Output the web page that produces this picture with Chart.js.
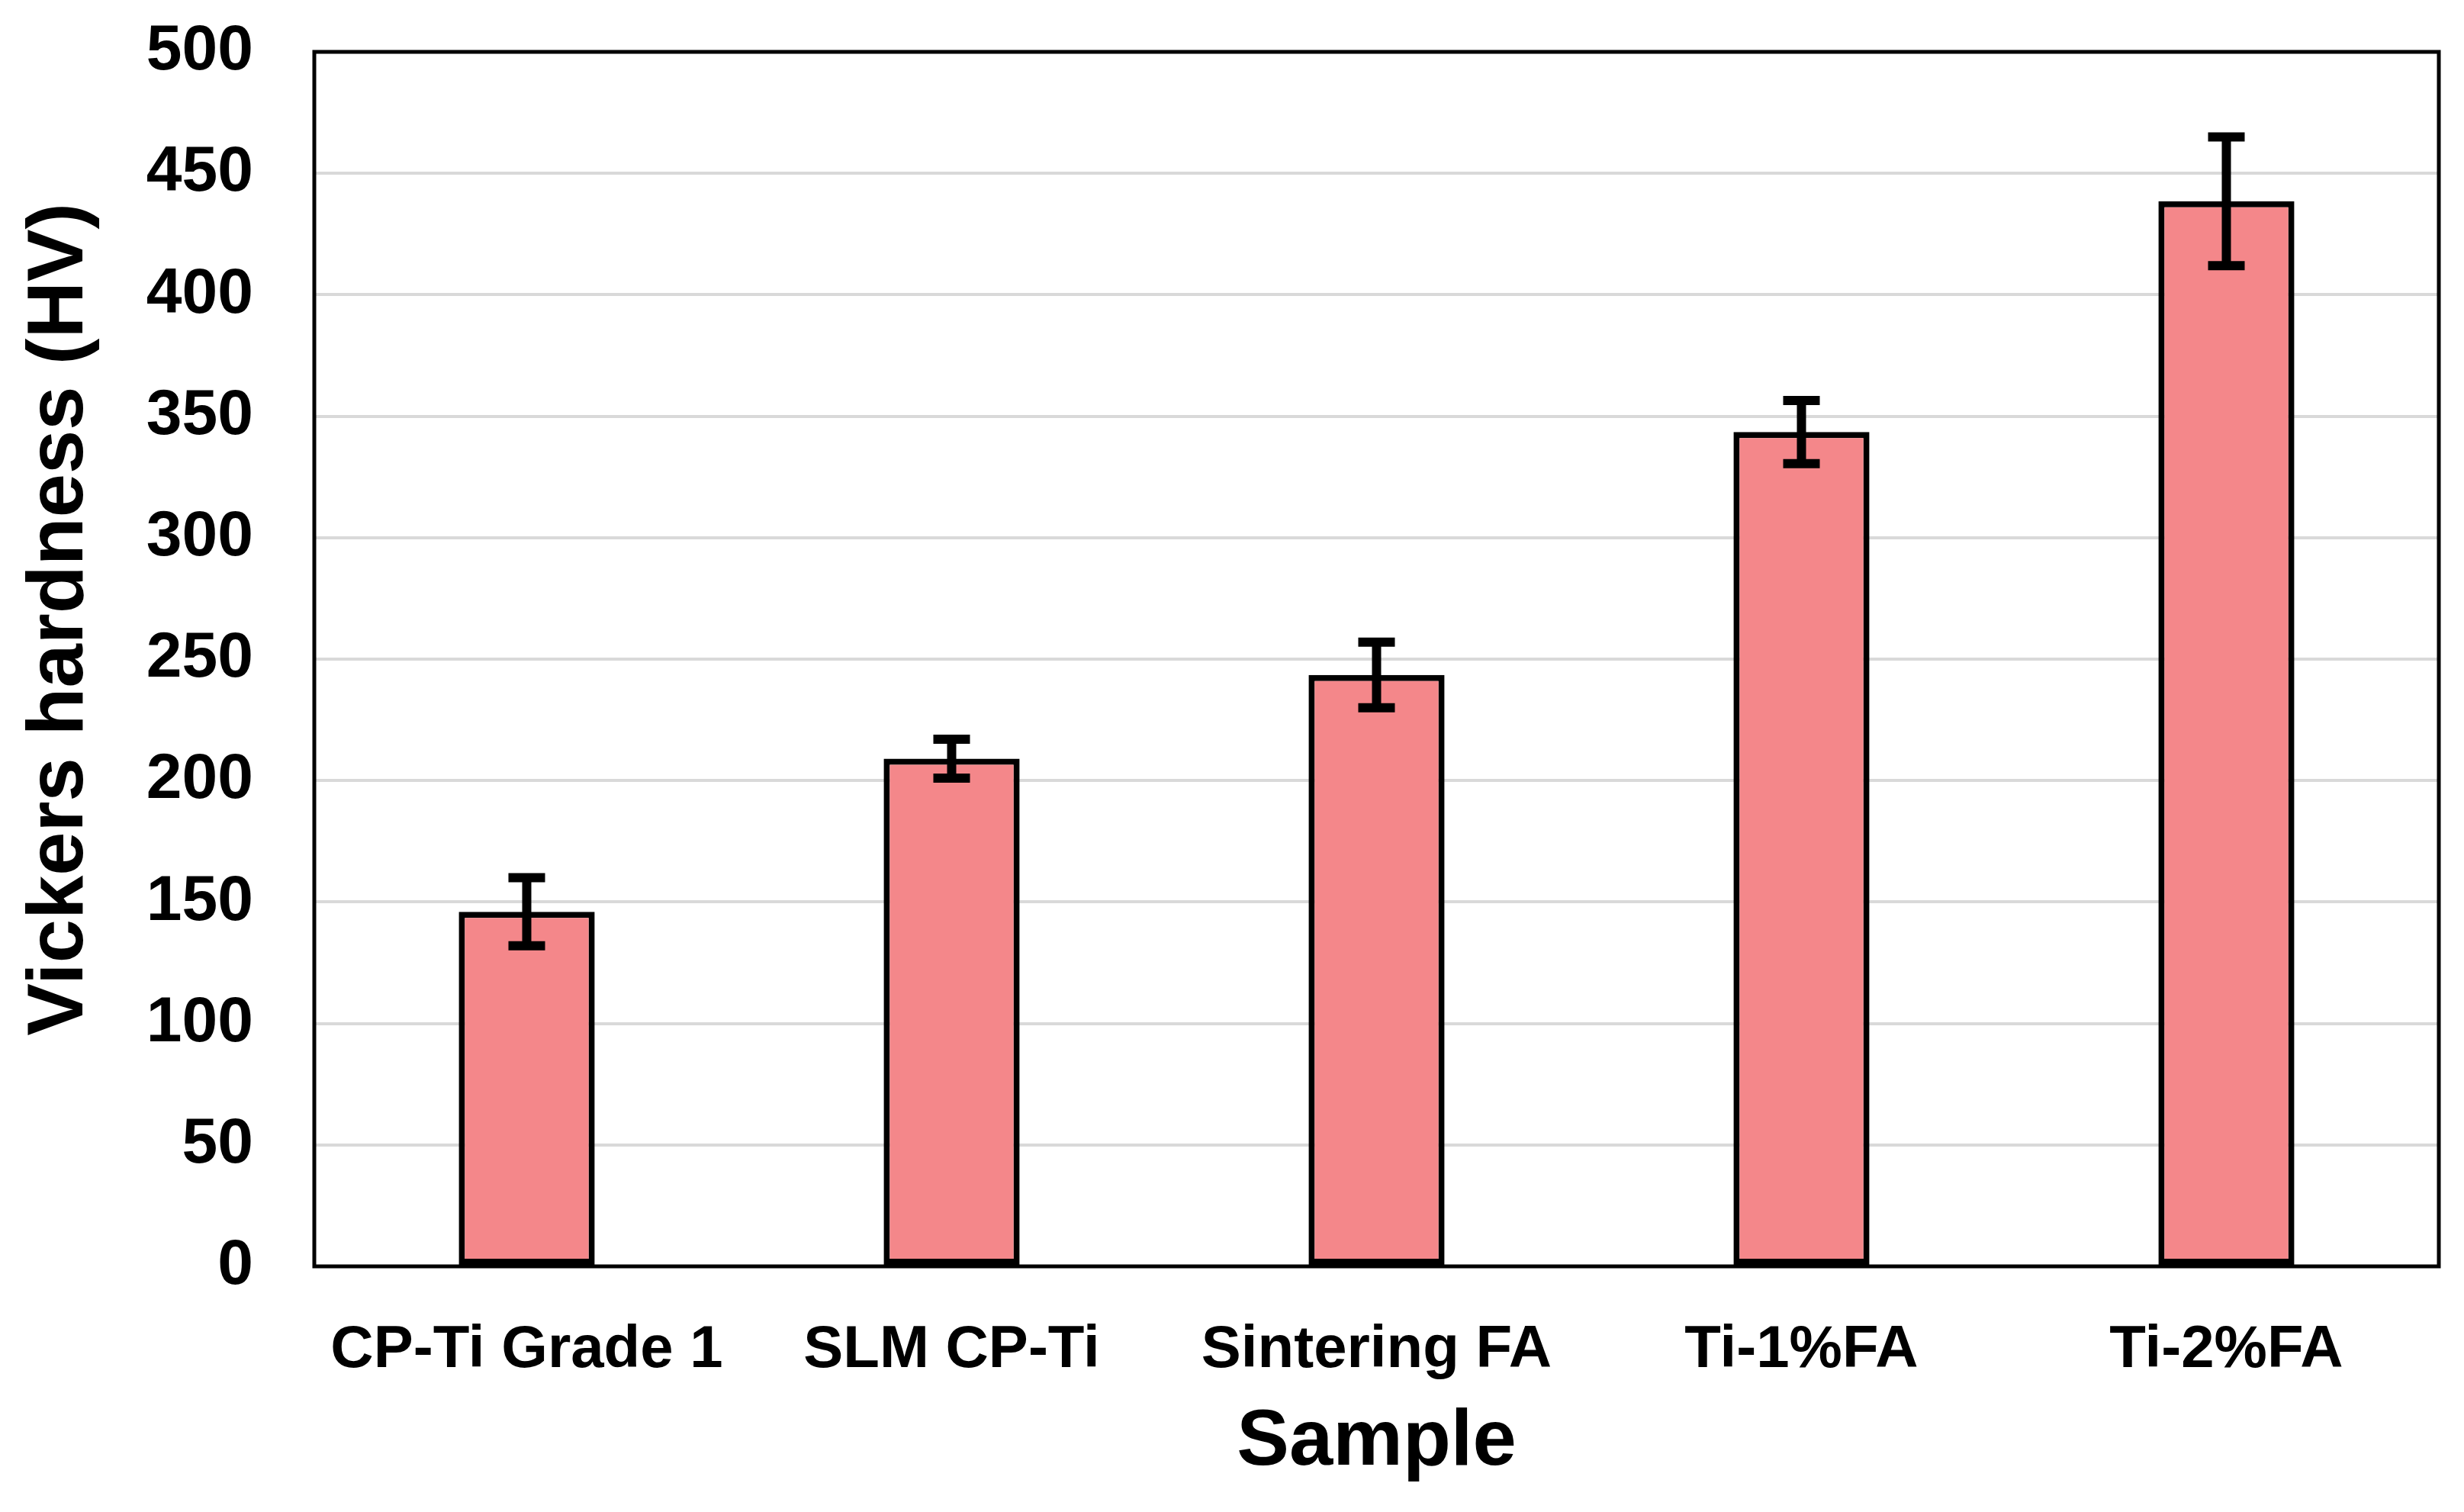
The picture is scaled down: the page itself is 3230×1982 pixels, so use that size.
<!DOCTYPE html>
<html>
<head>
<meta charset="utf-8">
<script src="https://cdn.jsdelivr.net/npm/chart.js@4.4.1/dist/chart.umd.min.js"></script>
<style>
html,body{margin:0;padding:0;background:#fff;}
#wrap{width:3230px;height:1982px;position:relative;}
</style>
</head>
<body>
<div id="wrap"><canvas id="c" width="3230" height="1982"></canvas></div>
<script>
const categories = ["CP-Ti Grade 1", "SLM CP-Ti", "Sintering FA", "Ti-1%FA", "Ti-2%FA"];
const hardness = [146, 209, 243.5, 343.5, 438.5];
const errors = [14, 8, 13.5, 13, 26.5];
const yTicks = [0, 50, 100, 150, 200, 250, 300, 350, 400, 450, 500];
const yTitle = "Vickers hardness (HV)";

const FONT = "'Liberation Sans', Arial, sans-serif";

const frame = {
  id: 'frame',
  beforeDatasetsDraw(chart) {
    const {ctx, chartArea: a} = chart;
    ctx.save();
    ctx.strokeStyle = '#000';
    ctx.lineWidth = 5;
    ctx.strokeRect(a.left, a.top, a.right - a.left, a.bottom - a.top);
    ctx.restore();
  }
};

const yTitlePlugin = {
  id: 'yTitle',
  afterDraw(chart) {
    const {ctx, chartArea: a} = chart;
    ctx.save();
    ctx.fillStyle = '#000';
    ctx.font = "bold 103px " + FONT;
    ctx.textAlign = 'center';
    ctx.textBaseline = 'middle';
    ctx.translate(80, (a.top + a.bottom) / 2 - 52);
    ctx.rotate(-Math.PI / 2);
    ctx.fillText(yTitle, 0, 0);
    ctx.restore();
  }
};

const errorBars = {
  id: 'errorBars',
  afterDatasetsDraw(chart) {
    const {ctx} = chart;
    const y = chart.scales.y;
    const meta = chart.getDatasetMeta(0);
    ctx.save();
    ctx.strokeStyle = '#000';
    ctx.lineWidth = 12;
    ctx.lineCap = 'butt';
    meta.data.forEach((bar, i) => {
      const v = hardness[i], e = errors[i];
      const yt = y.getPixelForValue(v + e);
      const yb = y.getPixelForValue(v - e);
      const x = bar.x, cw = 24;
      ctx.beginPath();
      ctx.moveTo(x, yt); ctx.lineTo(x, yb);
      ctx.moveTo(x - cw, yt); ctx.lineTo(x + cw, yt);
      ctx.moveTo(x - cw, yb); ctx.lineTo(x + cw, yb);
      ctx.stroke();
    });
    ctx.restore();
  }
};

new Chart(document.getElementById('c'), {
  type: 'bar',
  data: {
    labels: categories,
    datasets: [{
      data: hardness,
      backgroundColor: '#F4878A',
      borderColor: '#000',
      borderWidth: 8,
      borderSkipped: false,
      barPercentage: 0.32,
      categoryPercentage: 1.0
    }]
  },
  options: {
    responsive: false,
    devicePixelRatio: 1,
    animation: false,
    layout: {padding: {top: 68, right: 33, left: 0, bottom: 0}},
    plugins: {legend: {display: false}, tooltip: {enabled: false}},
    scales: {
      x: {
        afterFit(s) { s.height = 322; s.paddingLeft = 0; s.paddingRight = 0; },
        grid: {display: false, drawTicks: false},
        border: {display: false},
        ticks: {color: '#000', font: {family: FONT, weight: 'bold', size: 78}, padding: 64, maxRotation: 0, autoSkip: false},
        title: {display: true, text: 'Sample', color: '#000', font: {family: FONT, weight: 'bold', size: 103}, padding: {top: 0, bottom: 29}}
      },
      y: {
        min: 0, max: 500,
        afterFit(s) { s.width = 412; s.paddingTop = 0; s.paddingBottom = 0; },
        afterBuildTicks(s) { s.ticks = yTicks.map(v => ({value: v})); },
        grid: {color: (c) => (c.tick && (c.tick.value === 0 || c.tick.value === 500)) ? 'rgba(0,0,0,0)' : '#D9D9D9', lineWidth: 4, drawTicks: false},
        border: {display: false},
        ticks: {color: '#000', font: {family: FONT, weight: 'bold', size: 84}, padding: 80, stepSize: 50},
        title: {display: false}
      }
    }
  },
  plugins: [frame, errorBars, yTitlePlugin]
});
</script>
</body>
</html>
